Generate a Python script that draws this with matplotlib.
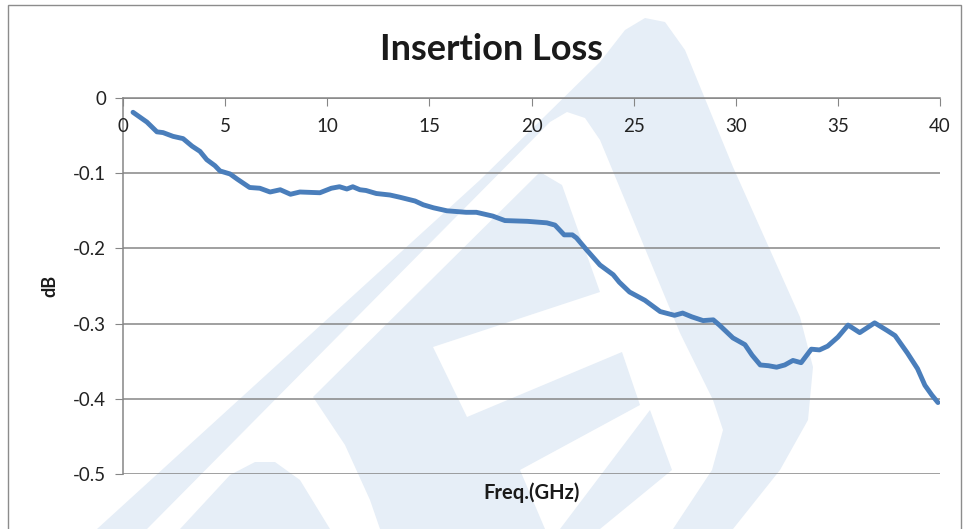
import matplotlib
matplotlib.use("Agg")
import matplotlib.pyplot as plt
from matplotlib.patches import Rectangle, Polygon

plt.rcParams['font.family'] = ['Lato', 'DejaVu Sans']

# data
freq = [0.49, 1.17, 1.66, 1.96, 2.45, 2.94, 3.38, 3.77, 4.1, 4.5, 4.75, 5.24, 5.6,
        6.2, 6.7, 7.2, 7.7, 8.2, 8.66, 9.64, 10.2, 10.6, 10.96, 11.25, 11.6, 11.9,
        12.4, 13.07, 13.56, 14.3, 14.7, 15.2, 15.86, 16.8, 17.3, 18.1, 18.7, 19.8,
        20.75, 21.15, 21.6, 22.0, 22.2, 22.7, 23.35, 24.0, 24.3, 24.8, 25.55, 26.3,
        27.0, 27.4, 27.85, 28.4, 28.9, 29.2, 29.86, 30.45, 30.8, 31.2, 31.6, 32.0,
        32.4, 32.8, 33.2, 33.7, 34.1, 34.5, 35.0, 35.5, 36.07, 36.8, 37.4, 37.8,
        38.4, 38.9, 39.26, 39.6, 39.9]
loss = [-0.019, -0.032, -0.045, -0.046, -0.051, -0.054, -0.064, -0.071, -0.082,
        -0.090, -0.097, -0.101, -0.108, -0.119, -0.120, -0.125, -0.122, -0.128,
        -0.125, -0.126, -0.120, -0.118, -0.121, -0.118, -0.122, -0.123, -0.127,
        -0.129, -0.132, -0.137, -0.142, -0.146, -0.150, -0.152, -0.152, -0.157,
        -0.163, -0.164, -0.166, -0.169, -0.182, -0.182, -0.186, -0.202, -0.222,
        -0.235, -0.245, -0.258, -0.269, -0.284, -0.289, -0.286, -0.291, -0.296,
        -0.295, -0.302, -0.319, -0.328, -0.342, -0.355, -0.356, -0.358, -0.355,
        -0.349, -0.352, -0.334, -0.335, -0.330, -0.318, -0.302, -0.312, -0.299,
        -0.309, -0.316, -0.339, -0.360, -0.382, -0.395, -0.405]

x_ticks = [0, 5, 10, 15, 20, 25, 30, 35, 40]
y_ticks = [0, -0.1, -0.2, -0.3, -0.4, -0.5]
y_labels = ['0', '-0.1', '-0.2', '-0.3', '-0.4', '-0.5']

W, H = 967, 529
fig = plt.figure(figsize=(W / 100, H / 100), dpi=100)

def px(x, y):
    return x / W, 1 - y / H

# faint logo watermark behind the chart (pixel outlines, top-left origin)
wm = '#e6eef7'
shapes = [
    # big arch: thin left leg, rounded top, wide right side curling back
    [(97, 529), (480, 180), (600, 62), (625, 30), (645, 18), (665, 22), (685, 50),
     (733, 167), (800, 317), (813, 367), (808, 420), (780, 470), (733, 529),
     (673, 529), (712, 470), (723, 430), (713, 400), (680, 333), (600, 140),
     (585, 118), (567, 112), (550, 122), (147, 529)],
    # inner "A" with a white notch
    [(540, 172), (562, 185), (600, 292), (433, 347), (467, 417), (622, 352),
     (640, 405), (520, 470), (545, 529), (380, 529), (370, 500), (345, 445),
     (313, 397)],
    # lower stripe
    [(650, 410), (672, 470), (600, 529), (560, 529)],
    # small hump bottom left
    [(180, 529), (230, 475), (255, 462), (275, 462), (300, 480), (330, 529)],
]
for pts in shapes:
    fig.add_artist(Polygon([px(*p) for p in pts], closed=True,
                           transform=fig.transFigure, facecolor=wm,
                           edgecolor='none', zorder=0))

# chart border
fig.add_artist(Rectangle(px(8, 540), 953 / W, 535 / H, transform=fig.transFigure,
                         fill=False, edgecolor='#8c8c8c', linewidth=1.0, zorder=1))

ax = fig.add_axes([123 / W, 1 - 474 / H, 817 / W, 376 / H])
ax.patch.set_alpha(0)
ax.set_zorder(2)

ax.plot(freq, loss, color='#4a7ebb', linewidth=3.5, solid_capstyle='round', zorder=3)

ax.set_xlim(0, 40)
ax.set_ylim(-0.5, 0)
ax.set_xticks(x_ticks)
ax.set_yticks(y_ticks)
ax.set_yticklabels(y_labels)
ax.grid(axis='y', color='#868686', linewidth=1.1)
ax.set_axisbelow(True)

for s in ['right', 'bottom']:
    ax.spines[s].set_visible(False)
for s in ['left', 'top']:
    ax.spines[s].set_color('#868686')
    ax.spines[s].set_linewidth(1.1)

ax.xaxis.set_ticks_position('top')
ax.tick_params(axis='x', direction='in', length=6, color='#868686',
               labeltop=False, labelbottom=False)
ax.tick_params(axis='y', direction='out', length=6, color='#868686',
               labelsize=13.5, labelcolor='#222222', pad=6)

# x tick labels sit just under the top axis line
for t in x_ticks:
    ax.text(t, -0.038, str(t), ha='center', va='center', fontsize=13.5, color='#222222')

fig.text(492 / W, 1 - 50 / H, 'Insertion Loss', ha='center', va='center',
         fontsize=26, fontweight='bold', color='#1a1a1a')
fig.text(50 / W, 1 - 286 / H, 'dB', ha='center', va='center', rotation=90,
         fontsize=13, fontweight='bold', color='#1a1a1a')
fig.text(532 / W, 1 - 493 / H, 'Freq.(GHz)', ha='center', va='center',
         fontsize=14.5, fontweight='bold', color='#1a1a1a')

plt.savefig('out.png', dpi=100)
